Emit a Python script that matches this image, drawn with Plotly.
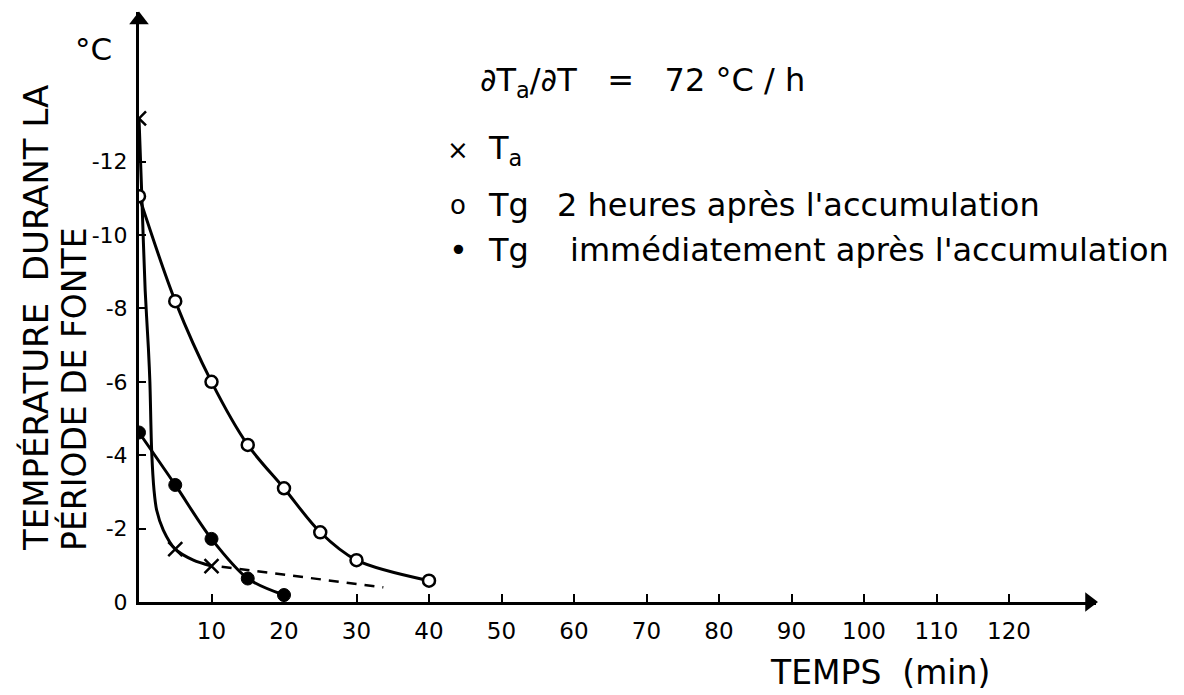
import plotly.graph_objects as go

# ---- data (°C, minutes) ----
ta_x = [0, 5, 10]
ta_y = [-13.18, -1.44, -0.98]
ta_curve_x = [0, 0.4, 0.85, 1.3, 1.5, 1.75, 2.07, 2.44, 3.35, 5, 7.5, 10]
ta_curve_y = [-13.18, -11.0, -8.5, -6.9, -6.0, -4.1, -3.05, -2.5, -1.96, -1.44, -1.14, -0.98]
ta_dash_x = [11.4, 33.7]
ta_dash_y = [-0.96, -0.40]

tg2_x = [0, 5, 10, 15, 20, 25, 30, 40]
tg2_y = [-11.06, -8.2, -6.0, -4.28, -3.1, -1.9, -1.14, -0.58]

tgi_x = [0, 5, 10, 15, 20]
tgi_y = [-4.62, -3.19, -1.72, -0.64, -0.19]

x_ticks = [10, 20, 30, 40, 50, 60, 70, 80, 90, 100, 110, 120]
x_ticktext = [str(v) for v in x_ticks]
y_ticks = [-12, -10, -8, -6, -4, -2, 0]
y_ticktext = ["-12", "-10", "-8", "-6", "-4", "-2", "0"]

X_MAX = 132
Y_MAX = -16.08

FONT = "DejaVu Sans"
W, H = 1184, 695
ML, MR, MT, MB = 139, 88, 12, 93
PW, PH = W - ML - MR, H - MT - MB


def px(x):
    return (x - ML) / PW


def py(y):
    return (H - MB - y) / PH


fig = go.Figure()

# curves
fig.add_trace(go.Scatter(x=ta_curve_x, y=ta_curve_y, mode="lines",
                         line=dict(color="black", width=3, shape="spline", smoothing=0.8),
                         hoverinfo="skip"))
fig.add_trace(go.Scatter(x=ta_dash_x, y=ta_dash_y, mode="lines",
                         line=dict(color="black", width=2.5, dash="10px,8px"),
                         hoverinfo="skip"))
fig.add_trace(go.Scatter(x=tg2_x, y=tg2_y, mode="lines",
                         line=dict(color="black", width=3, shape="spline", smoothing=0.9),
                         hoverinfo="skip"))
fig.add_trace(go.Scatter(x=tgi_x, y=tgi_y, mode="lines",
                         line=dict(color="black", width=3, shape="spline", smoothing=0.9),
                         hoverinfo="skip"))

# markers
fig.add_trace(go.Scatter(x=ta_x, y=ta_y, mode="markers",
                         marker=dict(symbol="x-thin", size=14, line=dict(color="black", width=2.5),
                                     color="black")))
fig.add_trace(go.Scatter(x=tg2_x, y=tg2_y, mode="markers",
                         marker=dict(symbol="circle", size=12, color="white",
                                     line=dict(color="black", width=2.5))))
fig.add_trace(go.Scatter(x=tgi_x, y=tgi_y, mode="markers",
                         marker=dict(symbol="circle", size=13, color="black",
                                     line=dict(color="black", width=1))))

# axis arrowheads
fig.add_trace(go.Scatter(x=[X_MAX - 0.9], y=[0], mode="markers", cliponaxis=False, hoverinfo="skip",
                         marker=dict(symbol="triangle-right", size=17, color="black")))
fig.add_trace(go.Scatter(x=[0], y=[Y_MAX + 0.22], mode="markers", cliponaxis=False, hoverinfo="skip",
                         marker=dict(symbol="triangle-up", size=17, color="black")))

ann = []
# y title (two rotated lines)
ann.append(dict(x=px(36), y=py(553), xref="paper", yref="paper", xanchor="center", yanchor="bottom",
                text="TEMPÉRATURE  DURANT LA", textangle=-90, showarrow=False,
                font=dict(family=FONT, size=34, color="black")))
ann.append(dict(x=px(74), y=py(553), xref="paper", yref="paper", xanchor="center", yanchor="bottom",
                text="PÉRIODE DE FONTE", textangle=-90, showarrow=False,
                font=dict(family=FONT, size=33, color="black")))
ann.append(dict(x=px(93), y=py(49), xref="paper", yref="paper", xanchor="center", yanchor="middle",
                text="°C", showarrow=False, font=dict(family=FONT, size=31, color="black")))

# x title
ann.append(dict(x=px(880), y=py(672), xref="paper", yref="paper", xanchor="center", yanchor="middle",
                text="TEMPS  (min)", showarrow=False, font=dict(family=FONT, size=33, color="black")))

# key
ann.append(dict(x=px(478), y=py(82), xref="paper", yref="paper", xanchor="left", yanchor="middle",
                text="∂T<sub>a</sub>/∂T   =   72 °C / h", showarrow=False,
                font=dict(family=FONT, size=32, color="black")))
rows = [
    ("×", 150, "T<sub>a</sub>", None, None),
    ("o", 205, "Tg", "2 heures après l'accumulation", 555),
    ("•", 250, "Tg", "immédiatement après l'accumulation", 568),
]
for sym, yy, lab, rest, rx in rows:
    ann.append(dict(x=px(458), y=py(yy), xref="paper", yref="paper", xanchor="center", yanchor="middle",
                    text=sym, showarrow=False,
                    font=dict(family=FONT, size=26 if sym != "•" else 32, color="black")))
    ann.append(dict(x=px(486), y=py(yy), xref="paper", yref="paper", xanchor="left", yanchor="middle",
                    text=lab, showarrow=False, font=dict(family=FONT, size=32, color="black")))
    if rest:
        ann.append(dict(x=px(rx), y=py(yy), xref="paper", yref="paper", xanchor="left", yanchor="middle",
                        text=rest, showarrow=False, font=dict(family=FONT, size=32, color="black")))

fig.update_layout(
    width=W, height=H,
    margin=dict(l=ML, r=MR, t=MT, b=MB),
    paper_bgcolor="white", plot_bgcolor="white",
    showlegend=False,
    annotations=ann,
    font=dict(family=FONT, size=22, color="black"),
    xaxis=dict(range=[0, X_MAX], showgrid=False, zeroline=False, showline=True, linecolor="black",
               linewidth=3, ticks="inside", ticklen=8, tickwidth=2, tickcolor="black",
               tickmode="array", tickvals=x_ticks, ticktext=x_ticktext, ticklabelstandoff=6,
               tickfont=dict(family=FONT, size=23, color="black")),
    yaxis=dict(range=[0, Y_MAX], showgrid=False, zeroline=False, showline=True, linecolor="black",
               linewidth=3, ticks="inside", ticklen=7, tickwidth=2, tickcolor="black",
               tickmode="array", tickvals=y_ticks, ticktext=y_ticktext, ticklabelstandoff=4,
               tickfont=dict(family=FONT, size=22, color="black")),
)

fig.write_html("out.html")
